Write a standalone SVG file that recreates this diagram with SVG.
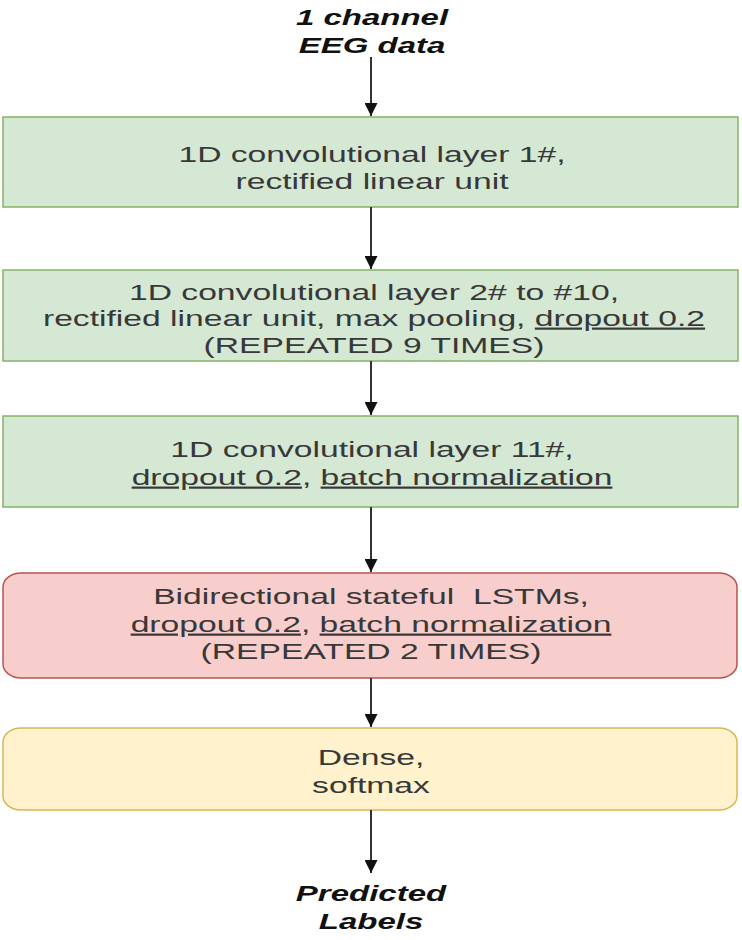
<svg xmlns="http://www.w3.org/2000/svg" width="742" height="940" viewBox="0 0 742 940">
  <style>
    .t { font-family: "Liberation Sans", Arial, sans-serif; font-size: 22px; fill: #383838; text-anchor: middle; white-space: pre; }
    .io { font-family: "Liberation Sans", Arial, sans-serif; font-size: 22px; font-weight: bold; font-style: italic; fill: #111; text-anchor: middle; }
    .u { text-decoration: underline; }
    .green { fill: #d5e8d4; stroke: #82b366; stroke-width: 1.5; }
    .red { fill: #f8cecc; stroke: #b85450; stroke-width: 1.5; }
    .yellow { fill: #fff2cc; stroke: #d6b656; stroke-width: 1.5; }
    .edge { stroke: #333; stroke-width: 2; fill: none; marker-end: url(#arr); }
  </style>
  <defs>
    <marker id="arr" viewBox="0 0 10 10" refX="10" refY="5" markerWidth="6.5" markerHeight="6.5" markerUnits="strokeWidth" orient="auto">
      <path d="M0,0 L10,5 L0,10 Z" fill="#111"/>
    </marker>
  </defs>
  <rect width="742" height="940" fill="#ffffff"/>

  <g id="input">
    <g transform="translate(372,0) scale(1.5,1)">
      <text class="io" x="0" y="25">1 channel</text>
      <text class="io" x="0" y="53">EEG data</text>
    </g>
  </g>

  <g id="conv1">
    <rect class="green" x="3" y="117" width="735" height="90"/>
    <g transform="translate(372,0) scale(1.53,1)">
      <text class="t" x="0" y="162">1D convolutional layer 1#,</text>
      <text class="t" x="0" y="189">rectified linear unit</text>
    </g>
  </g>

  <g id="conv2to10">
    <rect class="green" x="3" y="270" width="735" height="91"/>
    <g transform="translate(374,0) scale(1.53,1)">
      <text class="t" x="0" y="300">1D convolutional layer 2# to #10,</text>
      <text class="t" x="0" y="326">rectified linear unit, max pooling, <tspan class="u">dropout 0.2</tspan></text>
      <text class="t" x="0" y="353">(REPEATED 9 TIMES)</text>
    </g>
  </g>

  <g id="conv11">
    <rect class="green" x="3" y="416" width="735" height="91"/>
    <g transform="translate(372,0) scale(1.53,1)">
      <text class="t" x="0" y="457">1D convolutional layer 11#,</text>
      <text class="t" x="0" y="485"><tspan class="u">dropout 0.2</tspan>, <tspan class="u">batch normalization</tspan></text>
    </g>
  </g>

  <g id="lstm">
    <rect class="red" x="3" y="573" width="734" height="105" rx="18" ry="14"/>
    <g transform="translate(371,0) scale(1.53,1)">
      <text class="t" x="0" y="604">Bidirectional stateful  LSTMs,</text>
      <text class="t" x="0" y="632"><tspan class="u">dropout 0.2</tspan>, <tspan class="u">batch normalization</tspan></text>
      <text class="t" x="0" y="659">(REPEATED 2 TIMES)</text>
    </g>
  </g>

  <g id="dense">
    <rect class="yellow" x="3" y="728" width="734" height="82" rx="18" ry="14"/>
    <g transform="translate(371,0) scale(1.53,1)">
      <text class="t" x="0" y="765">Dense,</text>
      <text class="t" x="0" y="793">softmax</text>
    </g>
  </g>

  <g id="output">
    <g transform="translate(371,0) scale(1.5,1)">
      <text class="io" x="0" y="901">Predicted</text>
      <text class="io" x="0" y="929">Labels</text>
    </g>
  </g>

  <g id="connectors">
    <line class="edge" x1="371" y1="57" x2="371" y2="116"/>
    <line class="edge" x1="371" y1="207" x2="371" y2="269"/>
    <line class="edge" x1="371" y1="361" x2="371" y2="415"/>
    <line class="edge" x1="371" y1="507" x2="371" y2="572"/>
    <line class="edge" x1="371" y1="678" x2="371" y2="727"/>
    <line class="edge" x1="371" y1="810" x2="371" y2="873"/>
  </g>
</svg>
